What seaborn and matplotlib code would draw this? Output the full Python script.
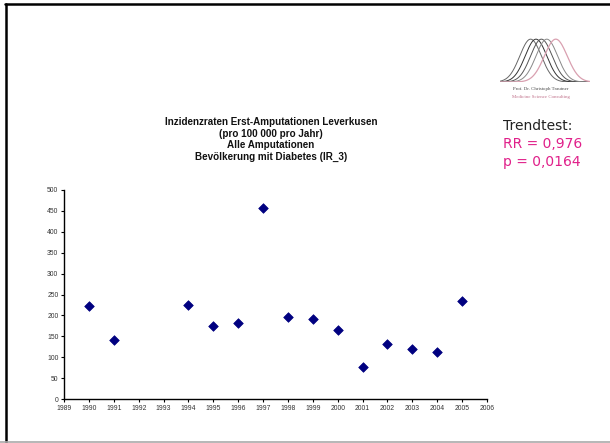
import numpy as np
import pandas as pd
import matplotlib
matplotlib.use("Agg")
import matplotlib.pyplot as plt
import seaborn as sns

# Data
jahre = [1990, 1991, 1994, 1995, 1996, 1997, 1998, 1999, 2000, 2001, 2002, 2003, 2004, 2005]
inzidenz = [223, 142, 226, 175, 181, 456, 195, 191, 164, 77, 131, 119, 112, 235]
x_ticks = list(range(1989, 2007))
y_ticks = list(range(0, 501, 50))

titel = ("Inzidenzraten Erst-Amputationen Leverkusen\n(pro 100 000 pro Jahr)\n"
         "Alle Amputationen\nBevölkerung mit Diabetes (IR_3)")

sns.set_theme(style="white")
plt.rcParams['font.family'] = ['Liberation Sans', 'DejaVu Sans']

W, H = 610, 443
fig = plt.figure(figsize=(W / 100, H / 100), dpi=100)

df = pd.DataFrame({'Jahr': jahre, 'IR': inzidenz})

# Main axes
ax = fig.add_axes([64 / W, 1 - 399 / H, 423 / W, 209 / H])
sns.scatterplot(data=df, x='Jahr', y='IR', ax=ax, marker='D', s=24,
                color='#000080', edgecolor='#000080', linewidth=0.5, legend=False)
ax.set_xlim(1989, 2006)
ax.set_ylim(0, 500)
ax.set_xticks(x_ticks)
ax.set_yticks(y_ticks)
ax.set_xticklabels([str(t) for t in x_ticks])
ax.set_xlabel('')
ax.set_ylabel('')
ax.tick_params(axis='both', labelsize=4.9, colors='#333333', length=2, width=0.8,
               pad=2, left=True, bottom=True)
ax.tick_params(axis='both', color='black')
for s in ['top', 'right']:
    ax.spines[s].set_visible(False)
for s in ['left', 'bottom']:
    ax.spines[s].set_color('black')
    ax.spines[s].set_linewidth(1.0)
ax.set_facecolor('white')

# Title
fig.text(271 / W, 1 - 117 / H, titel, ha='center', va='top', fontsize=7.1,
         fontweight='bold', linespacing=1.2, color='#111111')

# Trend test text
fig.text(503 / W, 1 - 126 / H, 'Trendtest:', ha='left', va='center',
         fontsize=10, color='#222222', family=['DejaVu Sans'])
fig.text(503 / W, 1 - 144 / H, 'RR = 0,976', ha='left', va='center',
         fontsize=10, color='#e0208a', family=['DejaVu Sans'])
fig.text(503 / W, 1 - 162 / H, 'p = 0,0164', ha='left', va='center',
         fontsize=10, color='#e0208a', family=['DejaVu Sans'])

# Logo (decoration)
lax = fig.add_axes([500 / W, 1 - 82 / H, 90 / W, 45 / H])
xx = np.linspace(0, 1, 200)
for c, col in [(0.34, '#666666'), (0.40, '#333333'), (0.46, '#555555'), (0.52, '#888888')]:
    lax.plot(xx, np.exp(-((xx - c) / 0.17) ** 2), color=col, lw=0.7)
lax.plot(xx, np.exp(-((xx - 0.62) / 0.18) ** 2), color='#d9a0b0', lw=0.9)
lax.set_xlim(0, 1)
lax.set_ylim(0, 1.05)
lax.axis('off')
fig.text(541 / W, 1 - 89 / H, 'Prof. Dr. Christoph Trautner', ha='center', va='center',
         fontsize=3.5, color='#444444', family=['Liberation Serif'])
fig.text(541 / W, 1 - 97 / H, 'Medicine Science Consulting', ha='center', va='center',
         fontsize=3.5, color='#c0708a', family=['Liberation Serif'])

# Slide frame
fig.add_artist(plt.Line2D([6 / W, 6 / W], [0, 1 - 4 / H], color='black', lw=1.8,
                          transform=fig.transFigure))
fig.add_artist(plt.Line2D([5 / W, 1], [1 - 4 / H, 1 - 4 / H], color='black', lw=1.8,
                          transform=fig.transFigure))
fig.add_artist(plt.Line2D([0, 1], [1 / H, 1 / H], color='#aaaaaa', lw=1.2,
                          transform=fig.transFigure))

fig.savefig('out.png', dpi=100, facecolor='white')
